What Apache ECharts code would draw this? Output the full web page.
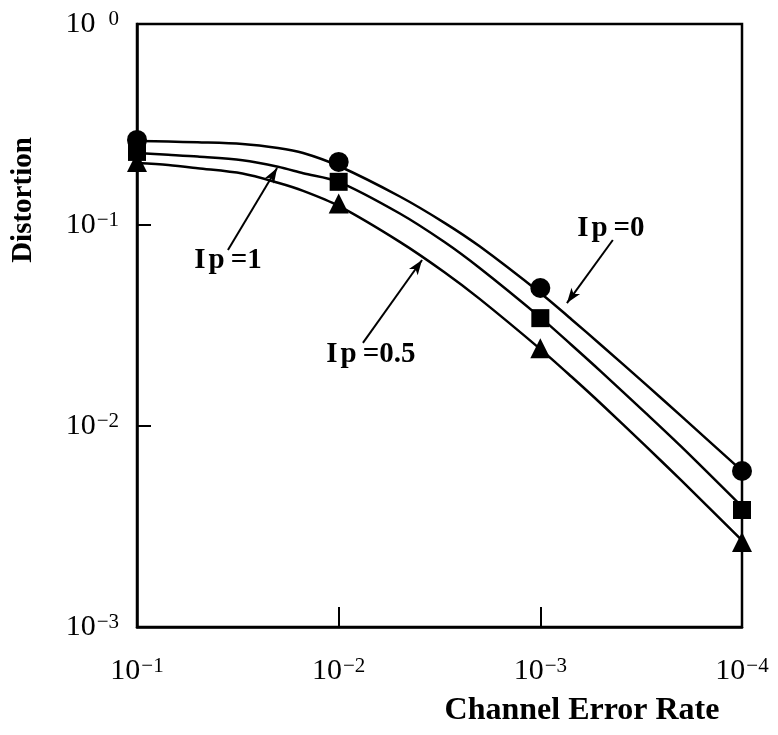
<!DOCTYPE html>
<html>
<head>
<meta charset="utf-8">
<script src="https://cdn.jsdelivr.net/npm/echarts@6/dist/echarts.min.js"></script>
<style>html,body{margin:0;padding:0;background:#fff;}#c{width:778px;height:735px;}</style>
</head>
<body>
<div id="c"></div>
<script>
// ---- data ----
const markerX = [0.1, 0.01, 0.001, 0.0001];            // Channel Error Rate at measured points
const markerIp0 = [0.265, 0.206, 0.0486, 0.00597];     // circles
const markerIp1 = [0.231, 0.164, 0.0344, 0.00382];     // squares
const markerIp05 = [0.206, 0.128, 0.0244, 0.00265];    // triangles

const curveX = [0.1, 0.07, 0.05, 0.03, 0.02, 0.015, 0.01, 0.005, 0.003, 0.002, 0.001, 0.0007, 0.0005, 0.0003, 0.0002, 0.0001];
const curveIp0 = [0.262, 0.260, 0.258, 0.253, 0.2415, 0.228, 0.1966, 0.139, 0.1028, 0.0783, 0.0459, 0.0339, 0.0253, 0.0161, 0.0112, 0.00598];
const curveIp1 = [0.2282, 0.2235, 0.2189, 0.2098, 0.1950, 0.1810, 0.164, 0.1144, 0.0825, 0.0611, 0.0347, 0.0253, 0.01865, 0.01159, 0.00789, 0.00397];
const curveIp05 = [0.2035, 0.1988, 0.1916, 0.1802, 0.1622, 0.1479, 0.1245, 0.0827, 0.0584, 0.0429, 0.02413, 0.01757, 0.0129, 0.00794, 0.00536, 0.0027];

const xTickExps = [-1, -2, -3, -4];
const yTickExps = [0, -1, -2, -3];

const annoTexts = ['=1', '=0.5', '=0'];
const annoLabelAt = [[0.0354, 0.0662], [0.00692, 0.0228], [0.000447, 0.0966]];
const annoArrowFrom = [[0.0354, 0.0751], [0.00758, 0.0259], [0.000437, 0.0842]];
const annoArrowTo = [[0.0202, 0.192], [0.00386, 0.067], [0.000738, 0.0409]];

const xName = 'Channel Error Rate';
const yName = 'Distortion';
// --------------------------------------

const FONT = "'Liberation Serif', 'DejaVu Serif', serif";
const zip = (xs, ys) => xs.map((x, i) => [x, ys[i]]);
const expOf = v => Math.round(Math.log10(v));

function tickLabel(v) {
  const e = expOf(v);
  if (xTickExps.indexOf(e) < 0 && yTickExps.indexOf(e) < 0) return '';
  if (e === 0) return '{b|10}{sp| }{s|0}';
  return '{b|10}{s|\u2212' + Math.abs(e) + '}';
}
const tickRich = {
  b: { fontSize: 30, fontFamily: FONT, color: '#000', lineHeight: 30 },
  s: { fontSize: 21, fontFamily: FONT, color: '#000', verticalAlign: 'top', padding: [0, 0, 0, 1] },
  sp: { fontSize: 21, fontFamily: FONT, width: 12 }
};

const chart = echarts.init(document.getElementById('c'), null, { renderer: 'canvas' });

const lineStyle = { color: '#000', width: 2.5 };
function curve(ys) {
  return { type: 'line', data: zip(curveX, ys), smooth: 0.3, showSymbol: false, symbol: 'none',
    lineStyle: lineStyle, itemStyle: { color: '#000' }, silent: true, z: 3 };
}
function markers(ys, sym, size) {
  return { type: 'scatter', data: zip(markerX, ys), symbol: sym, symbolSize: size,
    itemStyle: { color: '#000', opacity: 1 }, silent: true, z: 5 };
}

const arrowData = annoArrowFrom.map((f, i) => [{ coord: f }, { coord: annoArrowTo[i] }]);

chart.setOption({
  animation: false,
  backgroundColor: '#fff',
  grid: { left: 137, right: 36, top: 24, bottom: 108, show: true, borderColor: '#000', borderWidth: 2.5, containLabel: false, outerBoundsMode: 'none' },
  xAxis: {
    type: 'log', logBase: 10, min: 0.0001, max: 0.1, inverse: true,
    axisLine: { show: true, lineStyle: { color: '#000', width: 2.5 } },
    axisTick: { show: true, inside: true, length: 20, lineStyle: { color: '#000', width: 2 } },
    minorTick: { show: false }, splitLine: { show: false }, minorSplitLine: { show: false },
    axisLabel: { margin: 29, formatter: tickLabel, rich: tickRich, color: '#000' }
  },
  yAxis: {
    type: 'log', logBase: 10, min: 0.001, max: 1,
    axisLine: { show: true, lineStyle: { color: '#000', width: 2.5 } },
    axisTick: { show: true, inside: true, length: 14, lineStyle: { color: '#000', width: 2 } },
    minorTick: { show: false }, splitLine: { show: false }, minorSplitLine: { show: false },
    axisLabel: { margin: 18, formatter: tickLabel, rich: tickRich, color: '#000' }
  },
  series: [
    Object.assign(curve(curveIp0), {
      markLine: { silent: true, symbol: ['none', 'arrow'], symbolSize: [8, 15], label: { show: false },
        lineStyle: { color: '#000', width: 2, type: 'solid' }, data: arrowData, animation: false }
    }),
    curve(curveIp1),
    curve(curveIp05),
    markers(markerIp0, 'circle', 20),
    markers(markerIp1, 'rect', 18),
    markers(markerIp05, 'triangle', 20)
  ]
});

const annoRich = {
  i: { fontSize: 29, fontFamily: FONT, fontWeight: 'bold', color: '#000' },
  p: { fontSize: 29, fontFamily: FONT, fontWeight: 'bold', color: '#000', padding: [0, 6, 0, 3] },
  e: { fontSize: 29, fontFamily: FONT, fontWeight: 'bold', color: '#000' }
};
const graphics = annoTexts.map((t, i) => {
  const p = chart.convertToPixel({ xAxisIndex: 0, yAxisIndex: 0 }, annoLabelAt[i]);
  return { type: 'text', x: p[0], y: p[1], z: 10, silent: true,
    style: { text: '{i|I}{p|p}{e|' + t + '}', rich: annoRich, align: 'center', verticalAlign: 'middle' } };
});
graphics.push({ type: 'text', x: 24, y: 200, rotation: Math.PI / 2, silent: true,
  style: { text: yName, font: "bold 29px " + FONT, fill: '#000', align: 'center', verticalAlign: 'middle' } });
graphics.push({ type: 'text', x: 582, y: 711, silent: true,
  style: { text: xName, font: "bold 32px " + FONT, fill: '#000', align: 'center', verticalAlign: 'middle' } });
chart.setOption({ graphic: graphics });
</script>
</body>
</html>
